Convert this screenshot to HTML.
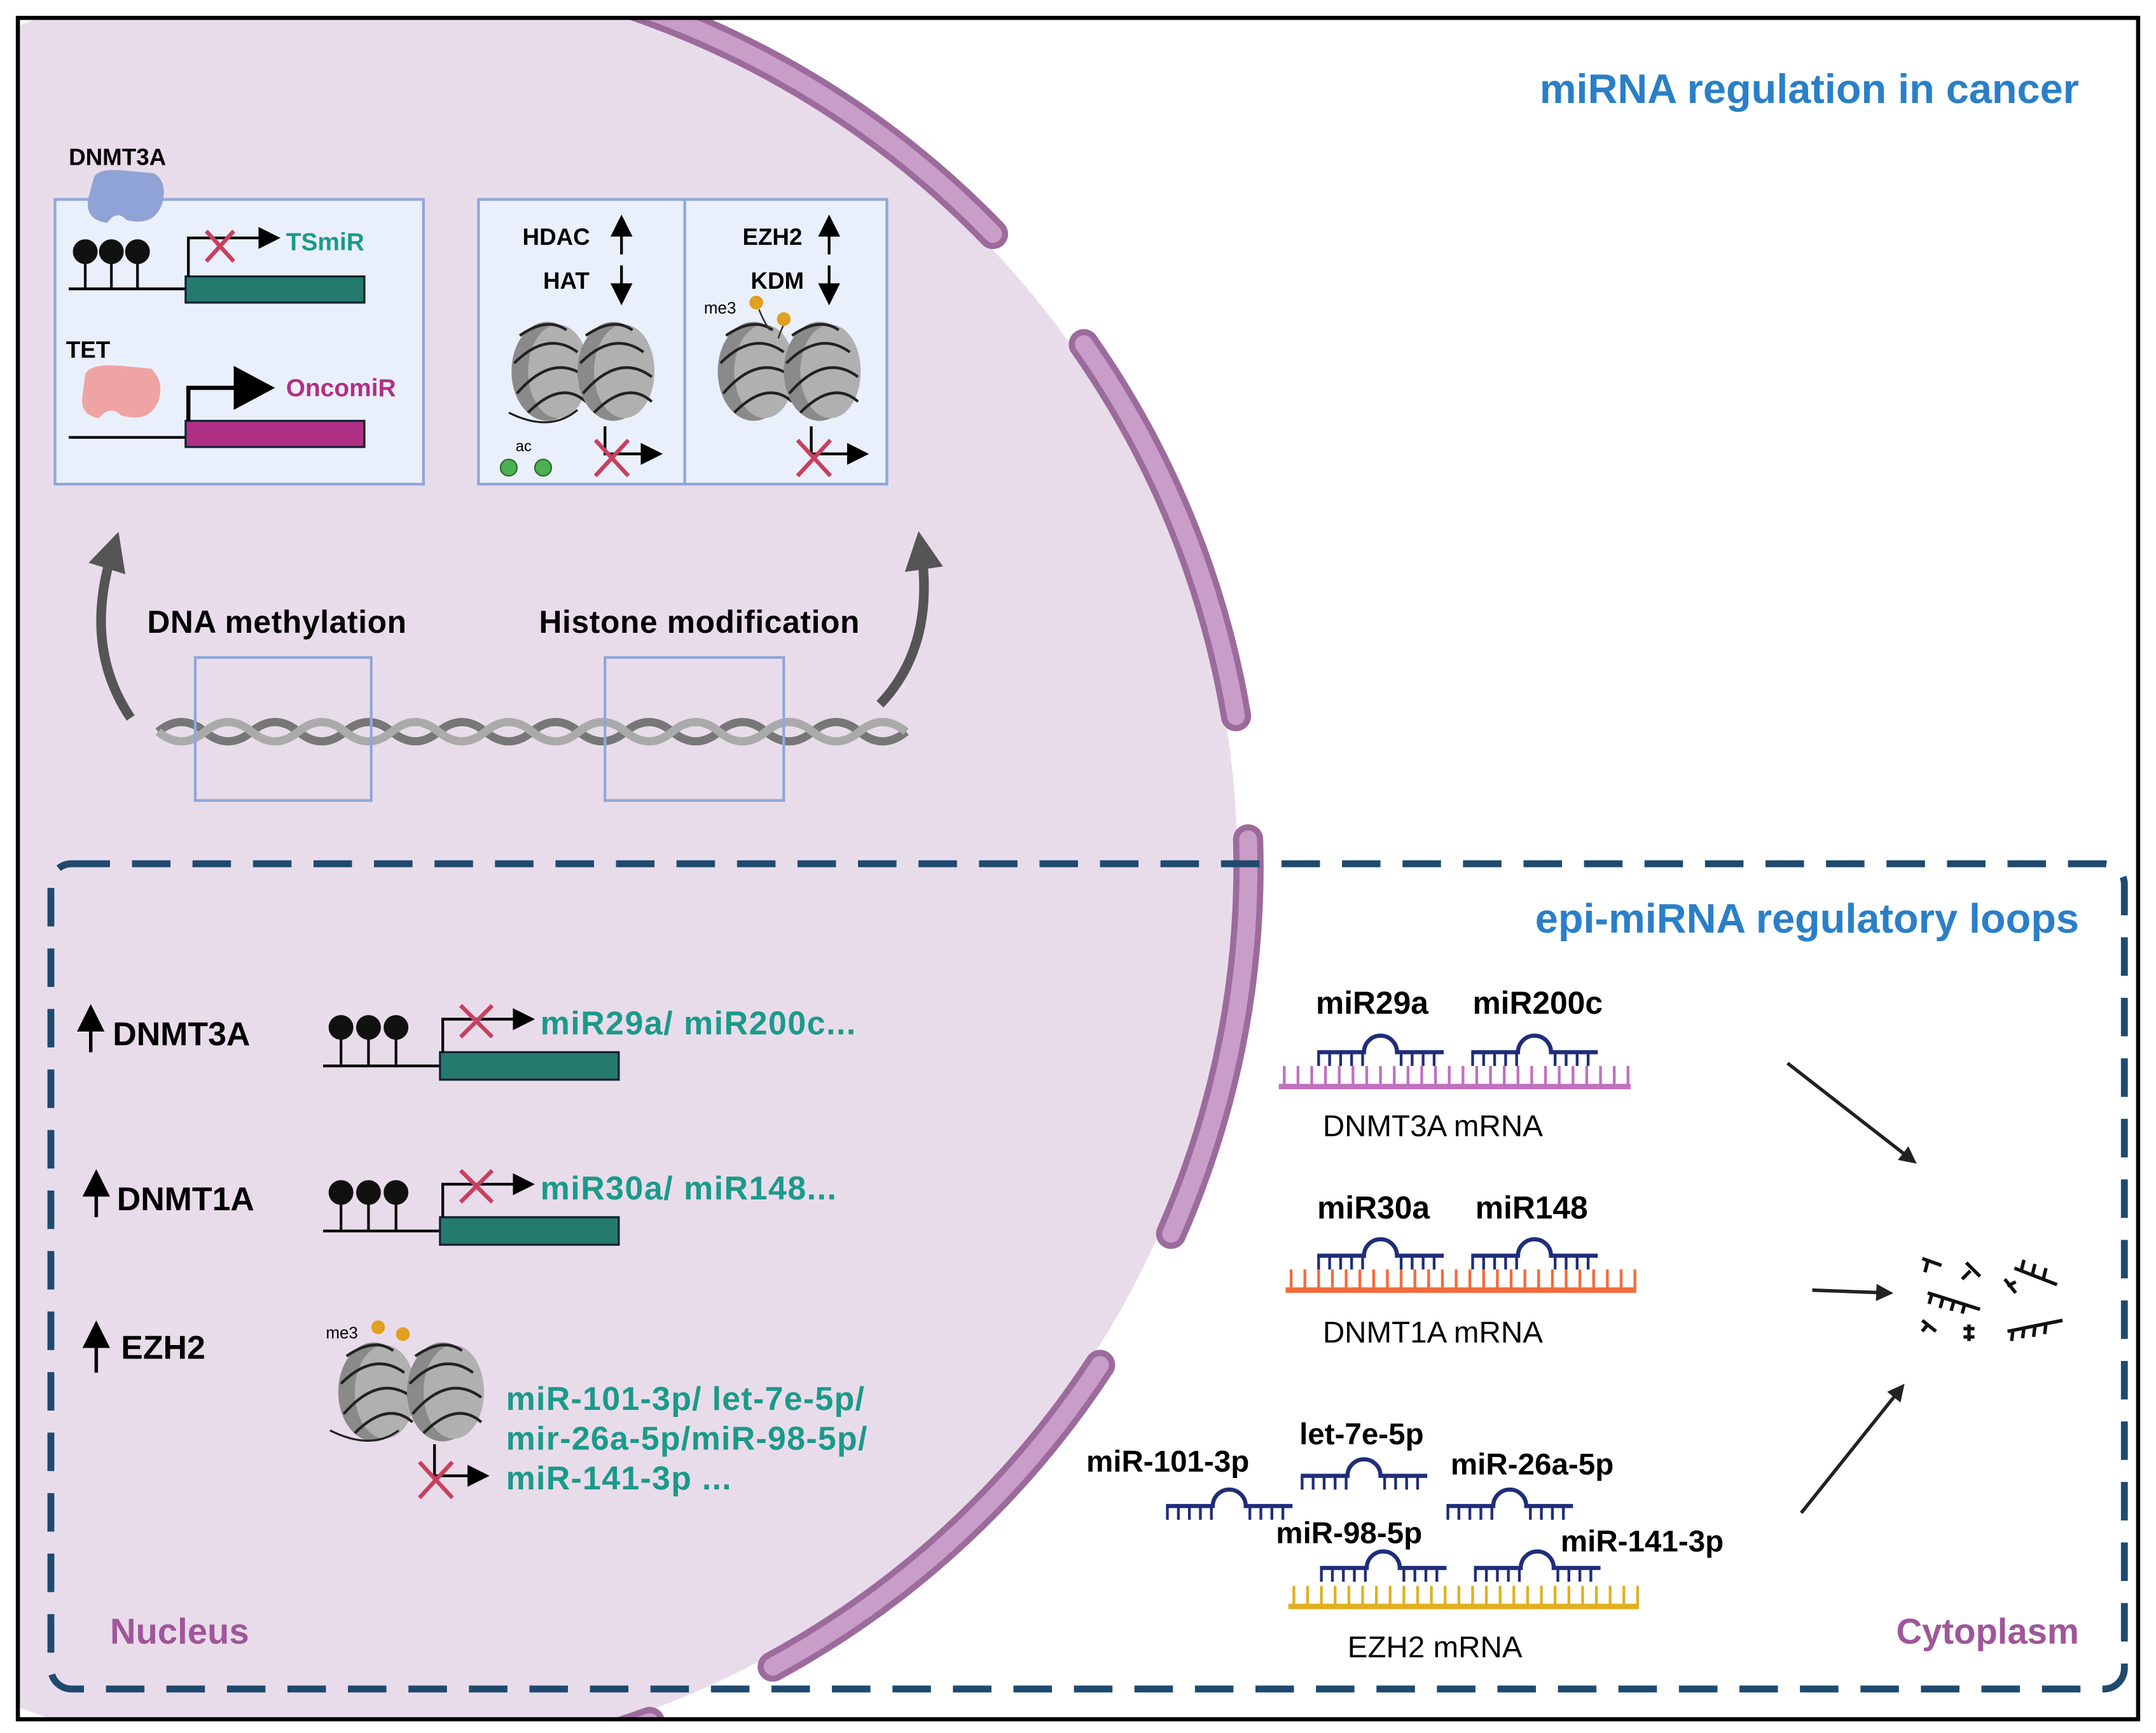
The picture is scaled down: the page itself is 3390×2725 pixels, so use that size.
<!DOCTYPE html>
<html><head><meta charset="utf-8"><style>
html,body{margin:0;padding:0;background:#fff;width:3390px;height:2725px;overflow:hidden}
svg{display:block}
text{font-family:"Liberation Sans",sans-serif}
.b{font-weight:bold}
</style></head><body>
<svg width="3390" height="2725" viewBox="0 0 1568 1260" preserveAspectRatio="none" xmlns="http://www.w3.org/2000/svg">
<defs>
<clipPath id="fr"><rect x="13" y="13" width="1542" height="1237"/></clipPath>
<g id="mir">
<path d="M0 0 H34 A12 12 0 0 1 58 0 H92" fill="none" stroke="#1f2d7a" stroke-width="3"/>
<line x1="0" y1="5" x2="34" y2="5" stroke="#1f2d7a" stroke-width="10" stroke-dasharray="2 6"/>
<line x1="60" y1="5" x2="92" y2="5" stroke="#1f2d7a" stroke-width="10" stroke-dasharray="2 6"/>
</g>
<g id="nuc">
<ellipse cx="0" cy="0" rx="26" ry="36" fill="#8a8a8a"/>
<ellipse cx="8" cy="0" rx="22" ry="34" fill="#b0b0b0"/>
<path d="M-20 -26 Q0 -40 14 -30 M-24 -6 Q0 -30 22 -14 M-22 16 Q4 -14 28 4 M-14 30 Q10 6 28 22" fill="none" stroke="#222" stroke-width="2"/>
</g>
<marker id="ah" markerWidth="8" markerHeight="8" refX="6" refY="4" orient="auto" markerUnits="strokeWidth"><path d="M0 0 L8 4 L0 8z" fill="#000"/></marker>
<marker id="ahg" markerWidth="4" markerHeight="4" refX="2" refY="2" orient="auto"><path d="M0 0 L4 2 L0 4z" fill="#555"/></marker>
<marker id="ahk" markerWidth="5" markerHeight="5" refX="3" refY="2.5" orient="auto"><path d="M0 0 L5 2.5 L0 5z" fill="#222"/></marker>
</defs>
<rect x="0" y="0" width="1568" height="1260" fill="#fff"/>
<g clip-path="url(#fr)">
<circle cx="246" cy="630" r="654" fill="#e9dcea"/>
<g transform="rotate(-75 246 630)">
<circle cx="246" cy="630" r="662" pathLength="360" fill="none" stroke="#9c6b9c" stroke-width="22" stroke-linecap="round" stroke-dasharray="0 4 27 9 25.5 7.8 25.5 9.4 28.3 8.5 25 200"/>
<circle cx="246" cy="630" r="662" pathLength="360" fill="none" stroke="#c89dc8" stroke-width="13" stroke-linecap="round" stroke-dasharray="0 4 27 9 25.5 7.8 25.5 9.4 28.3 8.5 25 200"/>
</g>
</g>
<rect x="13" y="13" width="1542" height="1237" fill="none" stroke="#000" stroke-width="3"/>

<text x="1512" y="75" text-anchor="end" class="b" font-size="30" fill="#2a7fc8">miRNA regulation in cancer</text>

<rect x="40" y="145" width="268" height="207" fill="#eaf0fb" stroke="#8fa8d8" stroke-width="2"/>
<text x="50" y="120" class="b" font-size="17">DNMT3A</text>
<path d="M68 130 Q70 122 90 124 L112 126 Q122 132 118 148 Q112 165 92 160 Q85 152 78 162 Q62 160 64 145z" fill="#8fa3d6"/>
<line x1="50" y1="210" x2="135" y2="210" stroke="#000" stroke-width="2"/>
<g fill="#111" stroke="#111" stroke-width="2">
<line x1="62" y1="185" x2="62" y2="210"/><circle cx="62" cy="183" r="8"/>
<line x1="81" y1="185" x2="81" y2="210"/><circle cx="81" cy="183" r="8"/>
<line x1="100" y1="185" x2="100" y2="210"/><circle cx="100" cy="183" r="8"/>
</g>
<rect x="135" y="201" width="130" height="19" fill="#247a6c" stroke="#123" stroke-width="1.5"/>
<path d="M137 201 V173 H200" fill="none" stroke="#000" stroke-width="2" marker-end="url(#ah)"/>
<path d="M150 168 L170 190 M170 168 L150 190" stroke="#c8405f" stroke-width="3"/>
<text x="208" y="182" class="b" font-size="18" fill="#1a9a8a">TSmiR</text>
<text x="48" y="260" class="b" font-size="17">TET</text>
<path d="M62 272 Q66 264 88 266 L110 268 Q120 278 115 292 Q108 308 88 302 Q80 294 72 304 Q58 302 60 288z" fill="#f0a3a3"/>
<line x1="50" y1="318" x2="135" y2="318" stroke="#000" stroke-width="2"/>
<rect x="135" y="306" width="130" height="19" fill="#b03085" stroke="#123" stroke-width="1.5"/>
<path d="M137 306 V282 H172" fill="none" stroke="#000" stroke-width="3"/>
<path d="M170 266 L200 282 L170 298z" fill="#000"/>
<text x="208" y="288" class="b" font-size="18" fill="#b03085">OncomiR</text>

<rect x="348" y="145" width="297" height="207" fill="#eaf0fb" stroke="#8fa8d8" stroke-width="2"/>
<line x1="498" y1="145" x2="498" y2="352" stroke="#8fa8d8" stroke-width="2"/>
<text x="380" y="178" class="b" font-size="17">HDAC</text>
<text x="395" y="210" class="b" font-size="17">HAT</text>
<path d="M452 185 V160" stroke="#000" stroke-width="2" marker-end="url(#ah)"/>
<path d="M452 193 V218" stroke="#000" stroke-width="2" marker-end="url(#ah)"/>
<use href="#nuc" x="398" y="270"/><use href="#nuc" x="446" y="270"/>
<path d="M370 300 Q400 315 420 298" fill="none" stroke="#222" stroke-width="1.5"/>
<text x="375" y="328" font-size="11">ac</text>
<circle cx="370" cy="340" r="6" fill="#4caf50" stroke="#2a6a2a"/>
<circle cx="395" cy="340" r="6" fill="#4caf50" stroke="#2a6a2a"/>
<path d="M440 310 V330 H478" fill="none" stroke="#000" stroke-width="2" marker-end="url(#ah)"/>
<path d="M433 320 L457 346 M457 320 L433 346" stroke="#c8405f" stroke-width="3"/>
<text x="540" y="178" class="b" font-size="17">EZH2</text>
<text x="546" y="210" class="b" font-size="17">KDM</text>
<path d="M603 185 V160" stroke="#000" stroke-width="2" marker-end="url(#ah)"/>
<path d="M603 193 V218" stroke="#000" stroke-width="2" marker-end="url(#ah)"/>
<use href="#nuc" x="548" y="270"/><use href="#nuc" x="596" y="270"/>
<text x="512" y="228" font-size="12">me3</text>
<path d="M552 225 Q556 235 560 240 M570 236 Q568 240 566 246" stroke="#333" fill="none" stroke-width="1.2"/>
<circle cx="550" cy="220" r="5" fill="#e0a020"/><circle cx="570" cy="232" r="5" fill="#e0a020"/>
<path d="M590 310 V330 H628" fill="none" stroke="#000" stroke-width="2" marker-end="url(#ah)"/>
<path d="M580 320 L604 346 M604 320 L580 346" stroke="#c8405f" stroke-width="3"/>

<path d="M95 522 Q60 470 82 400" fill="none" stroke="#555" stroke-width="7" marker-end="url(#ahg)"/>
<path d="M640 512 Q680 470 670 400" fill="none" stroke="#555" stroke-width="7" marker-end="url(#ahg)"/>
<text x="107" y="460" class="b" font-size="23" letter-spacing="0.3">DNA methylation</text>
<text x="392" y="460" class="b" font-size="23" letter-spacing="0.3">Histone modification</text>

<path d="M115 532 q17 -14 34 0 t34 0 t34 0 t34 0 t34 0 t34 0 t34 0 t34 0 t34 0 t34 0 t34 0 t34 0 t34 0 t34 0 t34 0 t34 0" fill="none" stroke="#777" stroke-width="6"/>
<path d="M115 532 q17 14 34 0 t34 0 t34 0 t34 0 t34 0 t34 0 t34 0 t34 0 t34 0 t34 0 t34 0 t34 0 t34 0 t34 0 t34 0 t34 0" fill="none" stroke="#aaa" stroke-width="6"/>
<rect x="142" y="478" width="128" height="104" fill="none" stroke="#8fa8d8" stroke-width="2"/>
<rect x="440" y="478" width="130" height="104" fill="none" stroke="#8fa8d8" stroke-width="2"/>

<rect x="37" y="628" width="1508" height="600" rx="15" fill="none" stroke="#1f4a70" stroke-width="5" stroke-dasharray="28 16"/>
<text x="1512" y="678" text-anchor="end" class="b" font-size="30" fill="#2a7fc8">epi-miRNA regulatory loops</text>

<path d="M66 765 V735" stroke="#000" stroke-width="2.5" marker-end="url(#ah)"/>
<text x="82" y="760" class="b" font-size="24">DNMT3A</text>
<line x1="235" y1="775" x2="320" y2="775" stroke="#000" stroke-width="2"/>
<g fill="#111" stroke="#111" stroke-width="2">
<line x1="248" y1="750" x2="248" y2="775"/><circle cx="248" cy="747" r="8"/>
<line x1="268" y1="750" x2="268" y2="775"/><circle cx="268" cy="747" r="8"/>
<line x1="288" y1="750" x2="288" y2="775"/><circle cx="288" cy="747" r="8"/>
</g>
<rect x="320" y="765" width="130" height="20" fill="#247a6c" stroke="#123" stroke-width="1.5"/>
<path d="M322 765 V741 H385" fill="none" stroke="#000" stroke-width="2" marker-end="url(#ah)"/>
<path d="M335 731 L358 754 M358 731 L335 754" stroke="#c8405f" stroke-width="3"/>
<text x="393" y="752" class="b" font-size="24" letter-spacing="0.7" fill="#1a9a8a">miR29a/ miR200c...</text>

<path d="M70 885 V855" stroke="#000" stroke-width="2.5" marker-end="url(#ah)"/>
<text x="85" y="880" class="b" font-size="24">DNMT1A</text>
<line x1="235" y1="895" x2="320" y2="895" stroke="#000" stroke-width="2"/>
<g fill="#111" stroke="#111" stroke-width="2">
<line x1="248" y1="870" x2="248" y2="895"/><circle cx="248" cy="867" r="8"/>
<line x1="268" y1="870" x2="268" y2="895"/><circle cx="268" cy="867" r="8"/>
<line x1="288" y1="870" x2="288" y2="895"/><circle cx="288" cy="867" r="8"/>
</g>
<rect x="320" y="885" width="130" height="20" fill="#247a6c" stroke="#123" stroke-width="1.5"/>
<path d="M322 885 V861 H385" fill="none" stroke="#000" stroke-width="2" marker-end="url(#ah)"/>
<path d="M335 851 L358 874 M358 851 L335 874" stroke="#c8405f" stroke-width="3"/>
<text x="393" y="872" class="b" font-size="24" letter-spacing="0.7" fill="#1a9a8a">miR30a/ miR148...</text>

<path d="M70 998 V965" stroke="#000" stroke-width="2.5" marker-end="url(#ah)"/>
<text x="88" y="988" class="b" font-size="24">EZH2</text>
<use href="#nuc" x="272" y="1012"/><use href="#nuc" x="322" y="1012"/>
<path d="M240 1040 Q270 1055 290 1040" fill="none" stroke="#222" stroke-width="1.5"/>
<text x="237" y="973" font-size="12">me3</text>
<circle cx="275" cy="965" r="5" fill="#e0a020"/><circle cx="293" cy="970" r="5" fill="#e0a020"/>
<path d="M316 1050 V1073 H352" fill="none" stroke="#000" stroke-width="2" marker-end="url(#ah)"/>
<path d="M305 1063 L329 1089 M329 1063 L305 1089" stroke="#c8405f" stroke-width="3"/>
<text x="368" y="1025" class="b" font-size="24" letter-spacing="0.6" fill="#1a9a8a">miR-101-3p/ let-7e-5p/</text>
<text x="368" y="1054" class="b" font-size="24" letter-spacing="0.6" fill="#1a9a8a">mir-26a-5p/miR-98-5p/</text>
<text x="368" y="1083" class="b" font-size="24" letter-spacing="0.6" fill="#1a9a8a">miR-141-3p ...</text>

<text x="80" y="1195" class="b" font-size="26" fill="#a0569a">Nucleus</text>
<text x="1512" y="1195" text-anchor="end" class="b" font-size="26" fill="#a0569a">Cytoplasm</text>

<text x="957" y="737" class="b" font-size="23">miR29a</text>
<text x="1071" y="737" class="b" font-size="23">miR200c</text>
<use href="#mir" x="958" y="765"/><use href="#mir" x="1070" y="765"/>
<line x1="930" y1="790" x2="1186" y2="790" stroke="#c070c0" stroke-width="4"/>
<line x1="933" y1="782" x2="1186" y2="782" stroke="#c070c0" stroke-width="14" stroke-dasharray="2 8"/>
<text x="962" y="826" font-size="22">DNMT3A mRNA</text>

<text x="958" y="886" class="b" font-size="23">miR30a</text>
<text x="1073" y="886" class="b" font-size="23">miR148</text>
<use href="#mir" x="958" y="913"/><use href="#mir" x="1070" y="913"/>
<line x1="935" y1="938" x2="1190" y2="938" stroke="#f56a3a" stroke-width="4"/>
<line x1="938" y1="930" x2="1190" y2="930" stroke="#f56a3a" stroke-width="14" stroke-dasharray="2 8"/>
<text x="962" y="976" font-size="22">DNMT1A mRNA</text>

<text x="790" y="1070" class="b" font-size="22">miR-101-3p</text>
<text x="945" y="1050" class="b" font-size="22">let-7e-5p</text>
<text x="1055" y="1072" class="b" font-size="22">miR-26a-5p</text>
<text x="928" y="1122" class="b" font-size="22">miR-98-5p</text>
<text x="1135" y="1128" class="b" font-size="22">miR-141-3p</text>
<use href="#mir" x="848" y="1095"/><use href="#mir" x="946" y="1073"/><use href="#mir" x="1052" y="1095"/>
<use href="#mir" x="960" y="1140"/><use href="#mir" x="1072" y="1140"/>
<line x1="937" y1="1168" x2="1192" y2="1168" stroke="#e0b020" stroke-width="4"/>
<line x1="940" y1="1160" x2="1192" y2="1160" stroke="#e0b020" stroke-width="14" stroke-dasharray="2 8"/>
<text x="980" y="1205" font-size="22">EZH2 mRNA</text>

<path d="M1300 773 L1390 843" stroke="#222" stroke-width="2.5" marker-end="url(#ahk)"/>
<path d="M1318 938 L1372 940" stroke="#222" stroke-width="2.5" marker-end="url(#ahk)"/>
<path d="M1310 1100 L1382 1010" stroke="#222" stroke-width="2.5" marker-end="url(#ahk)"/>
<g stroke="#111" stroke-width="2.5" fill="none">
<path d="M1398 915 L1412 920 M1402 917 L1400 925"/>
<path d="M1430 918 L1440 928 M1433 924 L1427 930"/>
<path d="M1402 940 L1440 952 M1405 941 L1403 948 M1413 944 L1411 951 M1421 946 L1419 953 M1429 948 L1427 955"/>
<path d="M1398 960 L1408 968 M1402 963 L1398 968"/>
<path d="M1432 963 L1432 975 M1428 966 L1436 966 M1428 972 L1436 972"/>
<path d="M1458 930 L1466 940 M1460 935 L1466 932"/>
<path d="M1465 922 L1496 934 M1470 924 L1472 916 M1478 927 L1480 919 M1486 930 L1488 922"/>
<path d="M1460 968 L1500 960 M1464 967 L1463 975 M1472 965 L1471 973 M1480 964 L1479 972 M1488 962 L1487 970"/>
</g>
</svg>
</body></html>
